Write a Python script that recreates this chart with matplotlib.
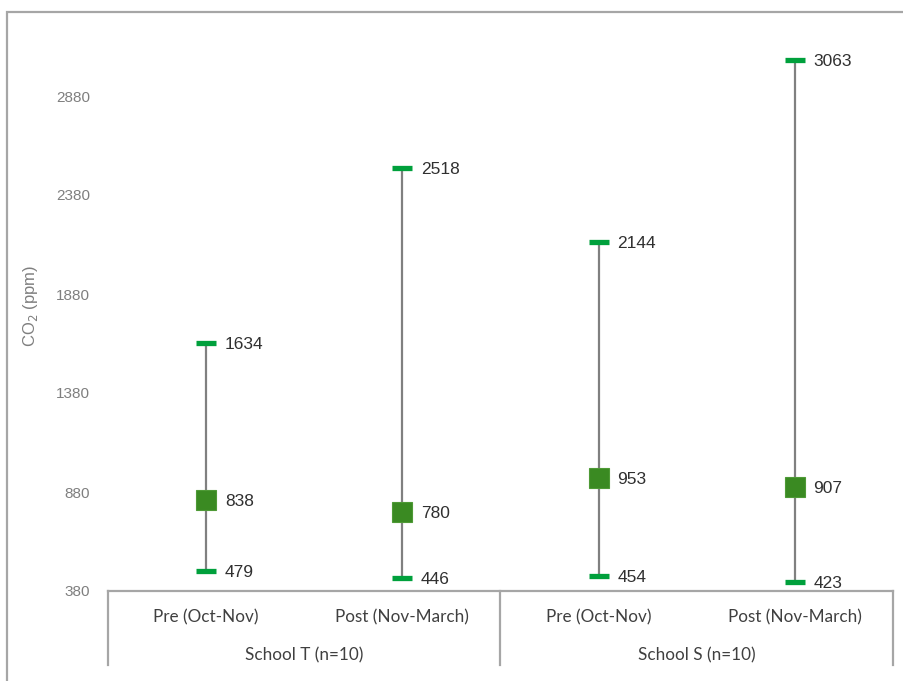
import matplotlib
matplotlib.use("Agg")
import matplotlib.pyplot as plt
from matplotlib.patches import Rectangle
from matplotlib.lines import Line2D

# CO2 concentration summary (ppm) per school and period
periods = ["Pre (Oct-Nov)", "Post (Nov-March)", "Pre (Oct-Nov)", "Post (Nov-March)"]
schools = ["School T (n=10)", "School S (n=10)"]
co2_min = [479, 446, 454, 423]
co2_mean = [838, 780, 953, 907]
co2_max = [1634, 2518, 2144, 3063]
y_ticks = [380, 880, 1380, 1880, 2380, 2880]

W, H = 904, 681
fig = plt.figure(figsize=(W / 100, H / 100), dpi=100)
fig.patch.set_facecolor("white")

# outer chart frame
fig.add_artist(Rectangle((7 / W, -0.05), 1.2, 1 - 12 / H + 0.05,
                         transform=fig.transFigure, fill=False,
                         edgecolor="#a6a6a6", linewidth=1.6))

left, right = 108 / W, 893 / W
bottom, top = 1 - 591 / H, 1 - 20 / H
ax = fig.add_axes([left, bottom, right - left, top - bottom])
ax.set_xlim(-0.5, 3.5)
ax.set_ylim(380, 380 + 571 / 0.198)

x = list(range(len(periods)))
line_col = "#808080"
cap_col = "#00A03C"
mean_col = "#3A8A22"

for xi, lo, mu, hi in zip(x, co2_min, co2_mean, co2_max):
    ax.plot([xi, xi], [lo, hi], color=line_col, linewidth=1.6, zorder=1)
    ax.plot([xi, xi], [lo, hi], linestyle="none", marker="_",
            markersize=14.5, markeredgewidth=3.8, color=cap_col, zorder=3)
    ax.plot([xi], [mu], linestyle="none", marker="s", markersize=14.2,
            markerfacecolor=mean_col, markeredgecolor="#4E9A36",
            markeredgewidth=0.8, zorder=4)
    for v in (lo, mu, hi):
        ax.annotate(str(v), (xi, v), xytext=(13.5, 0), textcoords="offset points",
                    va="center_baseline", ha="left", fontsize=12.5,
                    family="Liberation Sans", color="#303030")

ax.set_yticks(y_ticks)
ax.set_yticklabels([str(t) for t in y_ticks], family="Liberation Sans",
                   fontsize=11, color="#7f7f7f")
ax.tick_params(axis="y", length=0, pad=13)
ax.set_xticks([])
for s in ["left", "right", "top", "bottom"]:
    ax.spines[s].set_visible(False)

ax.set_ylabel("CO$_2$ (ppm)", family="Liberation Sans", fontsize=12,
              color="#7f7f7f")
ax.yaxis.set_label_coords(-(108 - 40) / (893 - 108), 0.5)

# multi-level category axis
axis_col = "#a6a6a6"
y_axis = 1 - 591 / H
y_end = 1 - 665 / H
xs = [108 / W, 500 / W, 893 / W]
fig.add_artist(Line2D([xs[0], xs[2]], [y_axis, y_axis], transform=fig.transFigure,
                      color=axis_col, linewidth=1.6))
for xv in xs:
    fig.add_artist(Line2D([xv, xv], [y_axis, y_end], transform=fig.transFigure,
                          color=axis_col, linewidth=1.6))

cat_font = dict(family="Lato", fontsize=12.3, color="#404040", ha="center", va="center")
for xi, lab in zip(x, periods):
    xf = left + (xi + 0.5) / 4 * (right - left)
    fig.text(xf, 1 - 617 / H, lab, **cat_font)
for i, lab in enumerate(schools):
    xf = (xs[i] + xs[i + 1]) / 2
    fig.text(xf, 1 - 655 / H, lab, **cat_font)

fig.savefig("out.png", dpi=100)
